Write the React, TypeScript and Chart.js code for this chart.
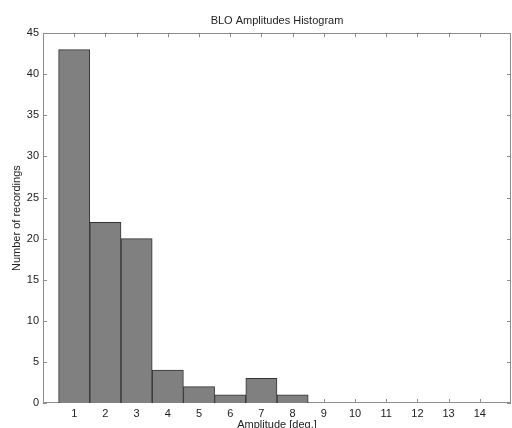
import React, { useEffect, useRef } from "react";
import { Chart, registerables } from "chart.js";

Chart.register(...registerables);

const binCenters = [1, 2, 3, 4, 5, 6, 7, 8];
const counts = [43, 22, 20, 4, 2, 1, 3, 1];
const xTickValues = [1, 2, 3, 4, 5, 6, 7, 8, 9, 10, 11, 12, 13, 14];
const yTickValues = [0, 5, 10, 15, 20, 25, 30, 35, 40, 45];
const titleText = "BLO Amplitudes Histogram";
const xLabel = "Amplitude [deg.]";
const yLabel = "Number of recordings";

const FONT = "'Liberation Sans', Arial, sans-serif";
const AXIS_COLOR = "#8c8c8c";
const TEXT_COLOR = "#222222";

const matlabAxes = {
  id: "matlabAxes",
  beforeDatasetsDraw(chart: any) {
    const { ctx, chartArea: a, scales } = chart;
    const len = 4;
    ctx.save();
    ctx.strokeStyle = AXIS_COLOR;
    ctx.lineWidth = 1;
    ctx.beginPath();
    for (const t of scales.x.ticks) {
      const px = Math.round(scales.x.getPixelForValue(t.value)) + 0.5;
      ctx.moveTo(px, a.bottom);
      ctx.lineTo(px, a.bottom - len);
      ctx.moveTo(px, a.top);
      ctx.lineTo(px, a.top + len);
    }
    for (const t of scales.y.ticks) {
      const py = Math.round(scales.y.getPixelForValue(t.value)) + 0.5;
      ctx.moveTo(a.left, py);
      ctx.lineTo(a.left + len, py);
      ctx.moveTo(a.right, py);
      ctx.lineTo(a.right - len, py);
    }
    ctx.stroke();
    ctx.strokeRect(
      Math.round(a.left) + 0.5,
      Math.round(a.top) + 0.5,
      Math.round(a.right - a.left) - 1,
      Math.round(a.bottom - a.top) - 1
    );
    ctx.restore();
  },
};

export default function App() {
  const ref = useRef<HTMLCanvasElement | null>(null);

  useEffect(() => {
    if (!ref.current) return;
    const chart = new Chart(ref.current, {
      type: "bar",
      data: {
        datasets: [
          {
            data: binCenters.map((x, i) => ({ x, y: counts[i] })),
            backgroundColor: "#808080",
            borderColor: "#333333",
            borderWidth: 1,
            barPercentage: 1,
            categoryPercentage: 1,
          },
        ],
      },
      options: {
        responsive: false,
        animation: false,
        devicePixelRatio: 1,
        layout: { padding: { left: 0, right: 1, top: 0, bottom: 0 } },
        plugins: {
          legend: { display: false },
          tooltip: { enabled: false },
          title: {
            display: true,
            fullSize: false,
            text: titleText,
            color: TEXT_COLOR,
            font: { family: FONT, size: 11, weight: "normal" },
            padding: { top: 14, bottom: 6 },
          },
        },
        scales: {
          x: {
            type: "linear",
            min: 0,
            max: 15,
            offset: false,
            afterBuildTicks: (scale: any) => {
              scale.ticks = xTickValues.map((v) => ({ value: v }));
            },
            afterFit: (scale: any) => {
              scale.height = 25;
            },
            grid: { display: false, drawTicks: false },
            border: { display: false },
            ticks: {
              color: TEXT_COLOR,
              font: { family: FONT, size: 11 },
              padding: 4,
              maxRotation: 0,
              autoSkip: false,
            },
            title: {
              display: true,
              text: xLabel,
              color: TEXT_COLOR,
              font: { family: FONT, size: 11 },
              padding: { top: 0, bottom: -4 },
            },
          },
          y: {
            type: "linear",
            min: 0,
            max: 45,
            afterBuildTicks: (scale: any) => {
              scale.ticks = yTickValues.map((v) => ({ value: v }));
            },
            afterFit: (scale: any) => {
              scale.width = 43;
            },
            grid: { display: false, drawTicks: false },
            border: { display: false },
            ticks: {
              color: TEXT_COLOR,
              font: { family: FONT, size: 11 },
              padding: 4,
              autoSkip: false,
            },
            title: {
              display: true,
              text: yLabel,
              color: TEXT_COLOR,
              font: { family: FONT, size: 11 },
              padding: { top: 10, bottom: 0 },
            },
          },
        },
      },
      plugins: [matlabAxes],
    } as any);
    return () => chart.destroy();
  }, []);

  return (
    <div style={{ position: "fixed", left: 0, top: 0, width: 512, height: 428, background: "#fff" }}>
      <canvas ref={ref} width={512} height={428} style={{ width: 512, height: 428, display: "block" }} />
    </div>
  );
}
